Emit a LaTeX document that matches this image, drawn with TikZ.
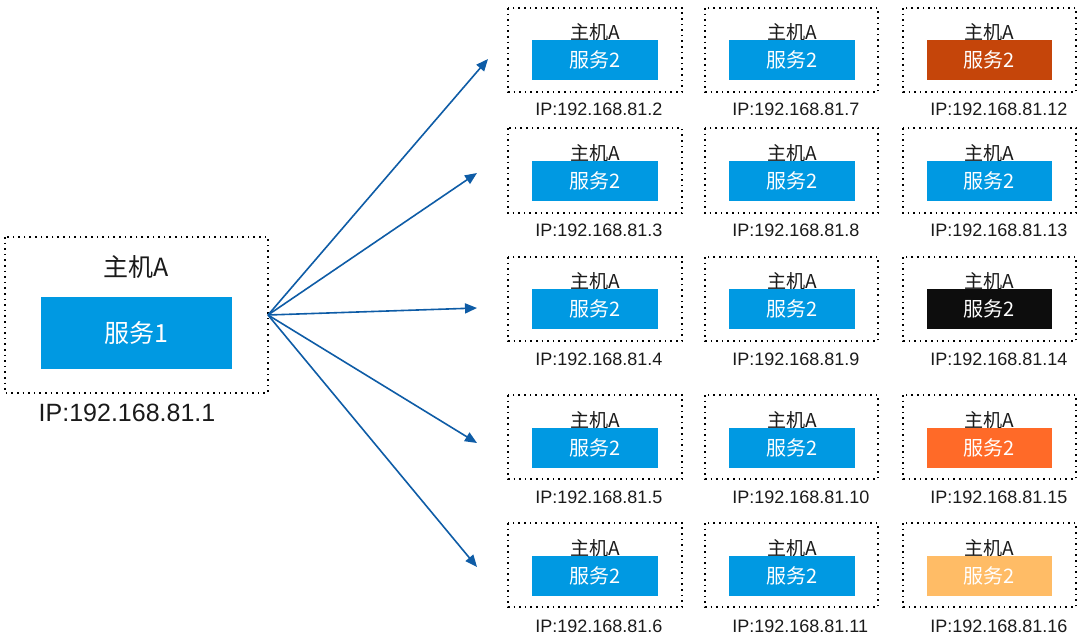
\documentclass[tikz,border=0pt]{standalone}
\usepackage{fontspec}
\setmainfont{Liberation Sans}
\newfontfamily\cjk{Noto Sans CJK SC}
\usetikzlibrary{arrows.meta}
\definecolor{svcblue}{RGB}{0,153,226}
\definecolor{arrowblue}{RGB}{14,92,166}
\definecolor{darkorange}{RGB}{197,69,10}
\definecolor{nearblack}{RGB}{13,13,13}
\definecolor{brightorange}{RGB}{255,106,40}
\definecolor{lightorange}{RGB}{255,188,102}
\definecolor{txt}{RGB}{26,26,26}
\tikzset{
  hostbox/.style={draw=black, line width=1.1pt, dash pattern=on 1.2pt off 3pt, inner sep=0pt},
  svcbox/.style={inner sep=0pt, text=white, font=\cjk\fontsize{15}{15}\selectfont},
  hosttext/.style={inner sep=0pt, text=txt, font=\cjk\fontsize{14.3}{14.3}\selectfont},
  iptext/.style={inner sep=0pt, text=txt, anchor=west, font=\fontsize{13.5}{13.5}\selectfont},
  link/.style={draw=arrowblue, line width=1.2pt, -{Triangle[length=9pt,width=7.5pt]}}
}
\begin{document}
\begin{tikzpicture}[x=0.75pt,y=-0.75pt]
\useasboundingbox (0,0) rectangle (1080,642);
% big host
\draw[hostbox] (5,237) rectangle (268,393);
\coordinate (bigE) at (268,315);
\node[hosttext, font=\cjk\fontsize{18.75}{18.75}\selectfont] (bigt) at (136,267) {主机A};
\node[svcbox, fill=svcblue, minimum width=191*0.75pt, minimum height=72*0.75pt, font=\cjk\fontsize{18.75}{18.75}\selectfont] (bigs) at (136.5,333) {服务1};
\node[iptext, anchor=center, font=\fontsize{18.75}{18.75}\selectfont] (bigip) at (127,413) {IP:192.168.81.1};
% grid
\foreach \r/\bt/\bb/\st/\sb/\iy in {1/8/92/40/80/109, 2/128/213/161/201/230, 3/257/341/289/329/359, 4/395/479/428/468/497, 5/523/607/556/596/626}{
  \foreach \c/\bl/\br/\sl/\sr in {1/508/682/532/658, 2/705/878/729/855, 3/903/1076/927/1052}{
    \draw[hostbox] (\bl,\bt) rectangle (\br,\bb);
    \node[hosttext] (t\r\c) at ({(\sl+\sr)/2},{\st-8}) {主机A};
  }
}
% service boxes with colours
\foreach \r/\st/\sb/\iy in {1/40/80/109, 2/161/201/230, 3/289/329/359, 4/428/468/497, 5/556/596/626}{
  \foreach \c/\sl/\sr in {1/532/658, 2/729/855, 3/927/1052}{
    \pgfmathtruncatemacro{\ipn}{(\c-1)*5+\r+1}
    \ifnum\c=3
      \ifcase\r\or\def\fc{darkorange}\or\def\fc{svcblue}\or\def\fc{nearblack}\or\def\fc{brightorange}\or\def\fc{lightorange}\fi
    \else
      \def\fc{svcblue}
    \fi
    \node[svcbox, fill=\fc, minimum width={(\sr-\sl)*0.75pt}, minimum height={(\sb-\st)*0.75pt}] (s\r\c) at ({(\sl+\sr)/2},{(\st+\sb)/2}) {服务2};
    \node[iptext] (ip\r\c) at ({\sl+3},\iy) {IP:192.168.81.\ipn};
  }
}
% arrows
\coordinate (a1) at (488,59);
\coordinate (a2) at (477,173);
\coordinate (a3) at (477,308);
\coordinate (a4) at (477,443);
\coordinate (a5) at (477,567);
\foreach \i in {1,...,5}{ \draw[link] (bigE) -- (a\i); }
\end{tikzpicture}
\end{document}
